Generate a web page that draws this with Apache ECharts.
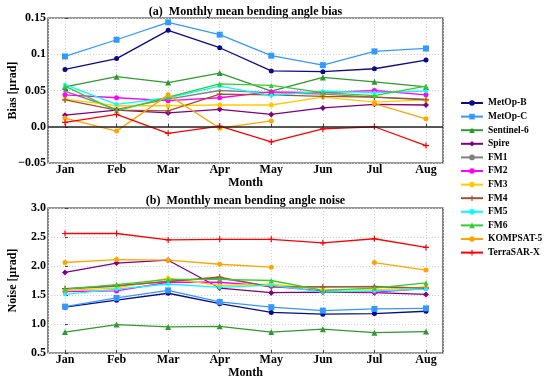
<!DOCTYPE html>
<html>
<head>
<meta charset="utf-8">
<script src="https://cdn.jsdelivr.net/npm/echarts@6/dist/echarts.min.js"></script>
<style>html,body{margin:0;padding:0;background:#fff}#c{width:550px;height:382px}</style>
</head>
<body>
<div id="c"></div>
<script>
const months = ['Jan','Feb','Mar','Apr','May','Jun','Jul','Aug'];
const names = ['MetOp-B','MetOp-C','Sentinel-6','Spire','FM1','FM2','FM3','FM4','FM5','FM6','KOMPSAT-5','TerraSAR-X'];
const colors = ['#0a0a8a','#3399ff','#2f9a2f','#800080','#808080','#ff00ff','#ffcc00','#a0522d','#00ffff','#33cc33','#ffa500','#ff0000'];

const biasMetOpB   = [0.079,0.094,0.133,0.109,0.077,0.076,0.080,0.092];
const biasMetOpC   = [0.097,0.120,0.144,0.127,0.098,0.085,0.104,0.108];
const biasSentinel6= [0.055,0.069,0.061,0.074,0.049,0.068,0.062,0.055];
const biasSpire    = [0.016,0.023,0.019,0.024,0.017,0.026,0.031,0.030];
const biasFM1      = [0.049,0.024,0.038,0.050,0.047,0.045,0.041,0.038];
const biasFM2      = [0.044,0.040,0.036,0.040,0.048,0.047,0.050,0.044];
const biasFM3      = [0.038,0.029,0.029,0.030,0.030,0.041,0.034,0.037];
const biasFM4      = [0.037,0.023,0.022,0.045,0.044,0.042,0.041,0.037];
const biasFM5      = [0.058,0.031,0.040,0.056,0.043,0.049,0.047,0.049];
const biasFM6      = [0.056,0.022,0.041,0.059,0.057,0.047,0.043,0.056];
const biasKOMPSAT5 = [0.012,-0.006,0.044,-0.002,0.008,null,0.032,0.011];
const biasTerraSARX= [0.006,0.017,-0.009,0.001,-0.021,-0.003,0.000,-0.026];

const noiseMetOpB   = [1.29,1.41,1.53,1.35,1.20,1.17,1.18,1.22];
const noiseMetOpC   = [1.30,1.45,1.58,1.38,1.29,1.23,1.26,1.27];
const noiseSentinel6= [0.86,0.99,0.95,0.96,0.86,0.91,0.85,0.87];
const noiseSpire    = [1.89,2.05,2.10,1.62,1.54,1.55,1.54,1.51];
const noiseFM1      = [1.60,1.65,1.74,1.79,1.64,1.64,1.65,1.62];
const noiseFM2      = [1.56,1.57,1.72,1.72,1.65,1.57,1.55,1.61];
const noiseFM3      = [1.58,1.62,1.79,1.66,1.69,1.59,1.59,1.64];
const noiseFM4      = [1.61,1.66,1.73,1.81,1.64,1.64,1.64,1.62];
const noiseFM5      = [1.51,1.60,1.69,1.63,1.67,1.55,1.57,1.60];
const noiseFM6      = [1.60,1.68,1.77,1.77,1.75,1.58,1.62,1.71];
const noiseKOMPSAT5 = [2.06,2.11,2.10,2.03,1.98,null,2.06,1.93];
const noiseTerraSARX= [2.56,2.56,2.45,2.46,2.46,2.40,2.47,2.32];

const biasTicks = [-0.05, 0, 0.05, 0.1, 0.15];
const noiseTicks = [0.5, 1.0, 1.5, 2.0, 2.5, 3.0];

const biasAll = [biasMetOpB,biasMetOpC,biasSentinel6,biasSpire,biasFM1,biasFM2,biasFM3,biasFM4,biasFM5,biasFM6,biasKOMPSAT5,biasTerraSARX];
const noiseAll = [noiseMetOpB,noiseMetOpC,noiseSentinel6,noiseSpire,noiseFM1,noiseFM2,noiseFM3,noiseFM4,noiseFM5,noiseFM6,noiseKOMPSAT5,noiseTerraSARX];

const plus = 'path://M4,0L6,0L6,4L10,4L10,6L6,6L6,10L4,10L4,6L0,6L0,4L4,4Z';
const symbols = ['circle','rect','triangle','diamond','circle','circle','circle',plus,'circle','triangle','circle',plus];
const sizes = [5,6,6,6,3,5,5,6,4,5,5,6];

const FONT = 'Liberation Serif';
const txt = {fontFamily: FONT, fontWeight: 'bold', color: '#000'};

function xAxisCfg(gi){
  return {
    type:'value', gridIndex: gi, min:-0.33, max:7.33, splitNumber: 8, minInterval:1, maxInterval:1,
    name:'Month', nameLocation:'middle', nameGap: 12,
    nameTextStyle: Object.assign({fontSize: 12}, txt),
    axisLine:{show:false},
    axisTick:{show:true, inside:true, length:3, lineStyle:{color:'#444'}},
    axisLabel: Object.assign({fontSize: 12, margin: 1, showMinLabel:false, showMaxLabel:false,
      formatter: v => (Math.abs(v - Math.round(v)) < 1e-6 && months[Math.round(v)] !== undefined) ? months[Math.round(v)] : ''}, txt),
    splitLine:{show:true, lineStyle:{color:'#d0d0d0', type:[1,2], width:1}}
  };
}
function yAxisCfg(gi, min, max, step, name, fmt){
  return {
    type:'value', gridIndex: gi, min:min, max:max, interval: step,
    name: name, nameLocation:'middle', nameGap: 29, nameMoveOverlap: false,
    nameTextStyle: Object.assign({fontSize: 12}, txt),
    axisLine:{show:false},
    axisTick:{show:true, inside:true, length:3, lineStyle:{color:'#444'}},
    axisLabel: Object.assign({fontSize: 12, margin: 2, formatter: fmt}, txt),
    splitLine:{show:true, lineStyle:{color:'#d0d0d0', type:[1,2], width:1}}
  };
}

const series = [];
names.forEach((n, i) => {
  [biasAll, noiseAll].forEach((arr, g) => {
    const s = {
      name: n, type:'line', xAxisIndex: g, yAxisIndex: g,
      data: arr[i].map((v, k) => [k, v]),
      connectNulls: false,
      symbol: symbols[i], symbolSize: sizes[i], showSymbol: true,
      itemStyle:{color: colors[i]},
      lineStyle:{color: colors[i], width: 1.3},
      emphasis:{disabled:true}, animation:false
    };
    if (g === 0 && i === 0) {
      s.markLine = {silent:true, symbol:'none', label:{show:false},
        lineStyle:{color:'#222', width:1.5, type:'solid'},
        data:[{yAxis: biasTicks[1]}]};
    }
    series.push(s);
  });
});

const chart = echarts.init(document.getElementById('c'), null, {renderer:'canvas'});
chart.setOption({
  animation:false,
  backgroundColor:'#fff',
  title:[
    {text:'(a)  Monthly mean bending angle bias', left: 245.5, textAlign:'center', top: 6, padding: 0,
     textStyle: Object.assign({fontSize: 12}, txt)},
    {text:'(b)  Monthly mean bending angle noise', left: 245.5, textAlign:'center', top: 194.5, padding: 0,
     textStyle: Object.assign({fontSize: 12}, txt)}
  ],
  grid:[
    {left:48, top:18, width:395, height:145, show:true, borderColor:'#333', borderWidth:1.2, backgroundColor:'transparent', outerBoundsMode:'none', containLabel:false},
    {left:48, top:208, width:395, height:145, show:true, borderColor:'#333', borderWidth:1.2, backgroundColor:'transparent', outerBoundsMode:'none', containLabel:false}
  ],
  legend:{
    orient:'vertical', left: 460, top: 97.5, padding: 0, itemWidth: 22, itemHeight: 7, itemGap: 2.6,
    data: names,
    textStyle: Object.assign({fontSize: 9.5, lineHeight: 11}, txt)
  },
  xAxis:[xAxisCfg(0), xAxisCfg(1)],
  yAxis:[
    yAxisCfg(0, biasTicks[0], biasTicks[biasTicks.length-1], 0.05, 'Bias [μrad]',
      v => { if (Math.abs(v) < 1e-9) return '0.0'; const r = Math.round(v*100)/100; return (r < 0 ? '\u2212' : '') + String(Math.abs(r)); }),
    yAxisCfg(1, noiseTicks[0], noiseTicks[noiseTicks.length-1], 0.5, 'Noise [μrad]', v => v.toFixed(1))
  ],
  series: series
});
</script>
</body>
</html>
